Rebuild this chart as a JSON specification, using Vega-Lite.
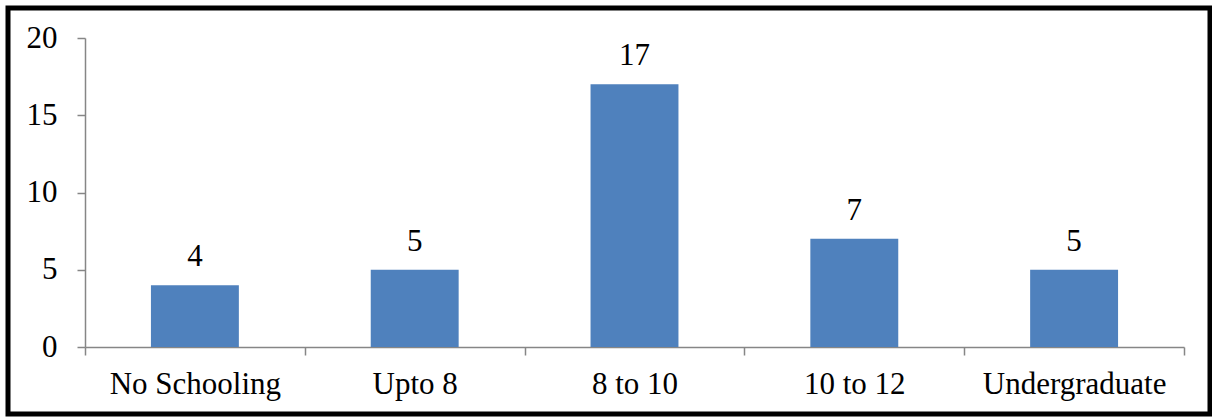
{
  "$schema": "https://vega.github.io/schema/vega-lite/v6.json",
  "autosize": {"type": "none"},
  "padding": {"left": 8, "top": 8, "right": 2, "bottom": 5},
  "width": 1202,
  "height": 406,
  "background": "white",
  "config": {
    "view": {"stroke": "#000000", "strokeWidth": 5, "fill": "white"},
    "font": "Liberation Serif",
    "axis": {
      "labelFont": "Liberation Serif",
      "labelFontSize": 31,
      "labelColor": "#000000",
      "labelLimit": 0,
      "domainColor": "#868686",
      "domainWidth": 1.5,
      "tickColor": "#868686",
      "tickWidth": 1.5,
      "tickSize": 8,
      "grid": false,
      "title": null
    }
  },
  "data": {
    "values": [
      {"level": "No Schooling", "count": 4},
      {"level": "Upto 8", "count": 5},
      {"level": "8 to 10", "count": 17},
      {"level": "10 to 12", "count": 7},
      {"level": "Undergraduate", "count": 5}
    ]
  },
  "encoding": {
    "x": {
      "field": "level",
      "type": "nominal",
      "sort": null,
      "scale": {"range": [77, 1176], "paddingInner": 0, "paddingOuter": 0},
      "axis": {"labelAngle": 0, "tickBand": "extent", "offset": -67, "labelPadding": 14}
    },
    "y": {
      "field": "count",
      "type": "quantitative",
      "scale": {"domain": [0, 20], "range": [339, 30], "nice": false},
      "axis": {"values": [0, 5, 10, 15, 20], "offset": -77, "labelPadding": 20}
    }
  },
  "layer": [
    {"mark": {"type": "bar", "color": "#4F81BD", "width": {"band": 0.4}}},
    {
      "mark": {"type": "text", "font": "Liberation Serif", "fontSize": 31, "baseline": "alphabetic", "dy": -19, "color": "#000000"},
      "encoding": {"text": {"field": "count", "type": "quantitative"}}
    }
  ]
}
